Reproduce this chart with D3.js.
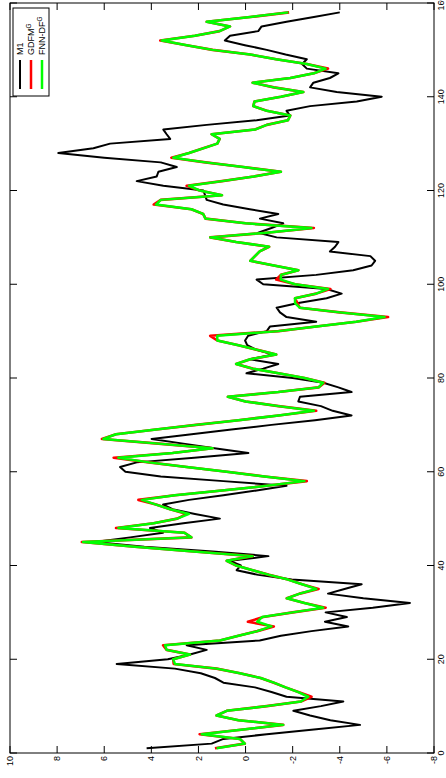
<!DOCTYPE html>
<html><head><meta charset="utf-8">
<script src="https://cdn.jsdelivr.net/npm/d3@7"></script>
<style>html,body{margin:0;padding:0;background:#fff;overflow:hidden}svg{display:block}text{font-family:"Liberation Sans",Arial,Helvetica,sans-serif}</style>
</head><body>
<svg id="chart" width="446" height="778"></svg>
<script>
// ---- data ----
const m1 = [4.2,1.44,0.94,-0.9,-2.9,-4.86,-3.6,-2.74,-2.03,-3.2,-4.15,-1.74,-1.1,-0.4,0.94,1.3,1.9,3.0,5.47,3.3,
2.36,1.65,2.5,-0.6,-1.5,-2.8,-4.36,-3.37,-4.3,-3.4,-5.4,-6.98,-5.0,-3.5,-4.2,-4.93,-1.96,-0.54,0.38,0.2,
0.66,-0.97,1.4,4.3,6.4,4.9,3.5,4.06,2.64,1.09,2.15,3.1,3.5,2.4,0.94,-0.47,-1.74,0.94,3.6,5.1,
5.33,4.62,2.18,-0.12,1.32,2.64,3.99,2.29,0.6,-1.1,-2.95,-4.5,-3.7,-3.2,-2.24,-2.31,-4.5,-3.94,-3.3,-2.0,
-0.04,-0.75,-1.39,-0.18,-1.18,-0.47,-0.07,0.02,-0.11,-0.9,-1.04,-3.0,-1.74,-1.46,-1.32,-2.24,-3.44,-4.08,-3.44,-0.75,
-0.47,-3.0,-4.57,-5.35,-5.5,-5.3,-3.58,-3.8,-3.94,-1.32,-0.54,-1.1,-1.6,-0.61,-1.39,-0.18,0.95,1.65,1.72,1.79,
3.49,4.62,3.77,3.7,2.92,3.6,6.0,7.95,6.46,5.75,3.2,3.35,3.49,1.65,-0.47,-1.88,-1.74,-2.74,-4.72,-5.78,
-3.87,-2.74,-2.88,-3.58,-3.94,-2.6,-2.4,-2.6,-1.7,-0.9,0.03,0.88,0.66,-0.54,-0.68,-1.74,-2.9,-4.0];

const fnn = [1.23,0.03,0.24,1.86,0.1,-1.6,0.3,1.23,0.8,-0.9,-2.35,-2.66,-2.24,-1.7,-1.2,-0.64,0.24,1.23,3.0,3.07,
2.36,3.35,3.42,1.09,0.3,-0.5,-1.1,-0.5,-0.7,-2.0,-3.3,-2.5,-1.75,-2.3,-3.0,-2.4,-1.8,-1.0,-0.3,0.4,
0.8,-0.3,2.2,4.7,6.9,2.3,2.6,5.4,3.9,2.9,2.4,3.2,3.8,4.4,3.0,1.0,-0.9,-2.5,-0.8,0.8,
2.5,4.1,5.4,3.1,1.4,3.7,6.04,5.5,3.8,2.1,0.3,-1.4,-2.9,-1.4,0.0,0.75,-1.39,-3.1,-3.3,-2.5,
-1.4,-0.3,0.4,-0.2,-1.3,-0.5,0.3,1.2,1.2,-1.4,-3.0,-4.7,-5.9,-4.0,-2.3,-2.1,-2.1,-3.0,-3.5,-2.1,
-1.5,-1.5,-2.24,-1.2,-0.2,-0.4,-0.6,-1.0,0.4,1.5,-0.9,-2.8,0.0,1.7,1.8,2.3,3.8,3.6,1.0,1.95,
2.4,1.0,-0.35,-1.5,0.1,1.7,3.07,2.4,1.8,1.2,1.1,1.44,-0.4,-0.9,-1.8,-1.9,-0.9,-0.33,-0.38,-1.5,
-2.45,-1.2,-0.3,-1.9,-2.9,-3.4,-2.6,-1.3,-0.2,1.4,2.5,3.56,2.15,1.1,0.66,1.65,-0.2,-1.82];

const gdfm = [1.3,0.03,0.24,1.95,0.1,-1.6,0.3,1.23,0.8,-0.9,-2.35,-2.8,-2.24,-1.7,-1.2,-0.64,0.24,1.23,3.05,3.07,
2.36,3.35,3.5,1.09,0.3,-0.5,-1.2,-0.1,-0.75,-2.0,-3.4,-2.5,-1.75,-2.3,-3.1,-2.4,-1.8,-1.0,-0.3,0.4,
0.8,-0.3,2.2,4.7,6.95,2.3,2.6,5.5,3.9,2.9,2.5,3.2,3.8,4.55,3.0,1.0,-0.9,-2.6,-0.8,0.8,
2.5,4.1,5.6,3.1,1.4,3.7,6.1,5.5,3.8,2.1,0.3,-1.4,-3.0,-1.4,0.0,0.75,-1.39,-3.1,-3.35,-2.5,
-1.4,-0.3,0.4,-0.2,-1.3,-0.5,0.3,1.2,1.5,-1.4,-3.0,-4.7,-6.05,-4.0,-2.3,-2.2,-2.1,-3.0,-3.6,-2.1,
-1.3,-1.5,-2.24,-1.2,-0.2,-0.4,-0.6,-1.0,0.4,1.5,-0.9,-2.9,0.0,1.7,1.8,2.3,3.9,3.6,1.0,1.95,
2.5,1.0,-0.35,-1.5,0.1,1.7,3.15,2.4,1.8,1.2,1.1,1.44,-0.4,-0.9,-1.8,-1.9,-0.9,-0.33,-0.38,-1.5,
-2.45,-1.2,-0.3,-1.9,-2.9,-3.5,-2.6,-1.3,-0.2,1.4,2.5,3.62,2.15,1.1,0.66,1.65,-0.2,-1.85];

const xTicks = [0,20,40,60,80,100,120,140,160];
const yTicks = [-8,-6,-4,-2,0,2,4,6,8,10];
const legendLabels = [{base:"M1",sup:""},{base:"GDFM",sup:"G"},{base:"FNN-DF",sup:"G"}];
const seriesColors = ["#000000","#ff0000","#00ff00"];

// ---- layout (drawn unrotated, then rotated 90° CCW) ----
const W = 750, H = 424;
const svg = d3.select("#chart");
const g = svg.append("g").attr("transform","translate(10,753) rotate(-90)");

const x = d3.scaleLinear().domain([0,160]).range([0,W]);
const y = d3.scaleLinear().domain([-8,10]).range([H,0]);

const tickLen = 7;
// box
g.append("rect").attr("x",0).attr("y",0).attr("width",W).attr("height",H)
 .attr("fill","none").attr("stroke","#000").attr("stroke-width",1);

// ticks (inward, both sides)
const xt = g.append("g").attr("class","xticks");
xTicks.forEach(t=>{
  xt.append("line").attr("x1",x(t)).attr("x2",x(t)).attr("y1",H).attr("y2",H-tickLen).attr("stroke","#000");
  xt.append("line").attr("x1",x(t)).attr("x2",x(t)).attr("y1",0).attr("y2",tickLen).attr("stroke","#000");
  xt.append("text").attr("x",x(t)).attr("y",H+10).attr("text-anchor","middle")
    .attr("font-size",9).attr("fill","#000").text(t);
});
const yt = g.append("g").attr("class","yticks");
yTicks.forEach(v=>{
  yt.append("line").attr("x1",0).attr("x2",tickLen).attr("y1",y(v)).attr("y2",y(v)).attr("stroke","#000");
  yt.append("line").attr("x1",W).attr("x2",W-tickLen).attr("y1",y(v)).attr("y2",y(v)).attr("stroke","#000");
  yt.append("text").attr("x",-3).attr("y",y(v)).attr("dy","0.35em").attr("text-anchor","end")
    .attr("font-size",9).attr("fill","#000").text(v);
});

// lines
const line = d3.line().x((d,i)=>x(i+1)).y(d=>y(d));
[[m1,2],[gdfm,2.6],[fnn,2.5]].forEach(([data,sw],k)=>{
  g.append("path").datum(data).attr("d",line).attr("fill","none")
   .attr("stroke",seriesColors[k]).attr("stroke-width",sw)
   .attr("stroke-linejoin","round").attr("stroke-linecap","butt");
});

// legend (top-right in unrotated frame)
const lg = g.append("g").attr("class","legend");
lg.append("rect").attr("x",657).attr("y",3).attr("width",88).attr("height",36)
  .attr("fill","#fff").attr("stroke","#000").attr("stroke-width",1);
legendLabels.forEach((lab,i)=>{
  const cy = 10 + i*11;
  lg.append("line").attr("x1",664).attr("x2",693).attr("y1",cy).attr("y2",cy)
    .attr("stroke",seriesColors[i]).attr("stroke-width",i===0?2:2.5);
  const tx = lg.append("text").attr("x",698).attr("y",cy).attr("dy","0.35em")
    .attr("font-size",9).attr("fill","#000");
  tx.append("tspan").text(lab.base);
  if(lab.sup) tx.append("tspan").attr("dy","-0.45em").attr("font-size",6.5).text(lab.sup);
});
</script>
</body></html>
